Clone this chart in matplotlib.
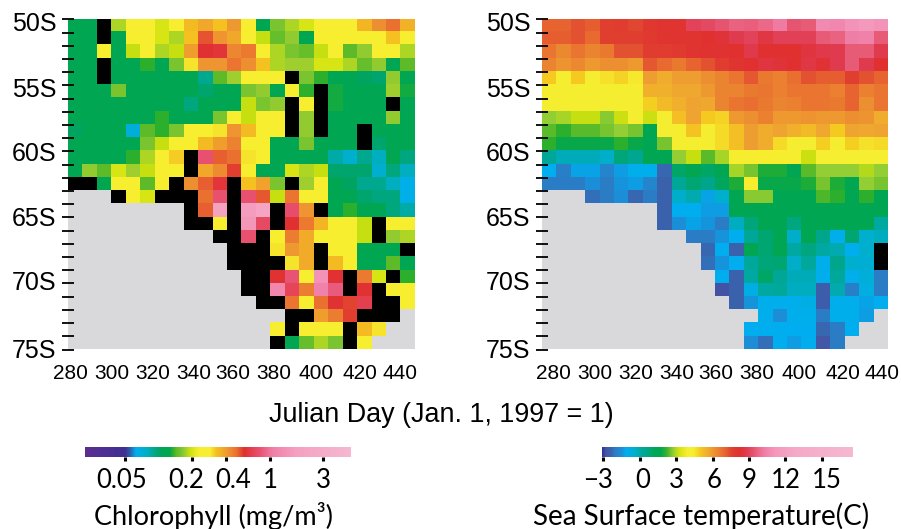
import matplotlib
matplotlib.use("Agg")
import matplotlib.pyplot as plt
import numpy as np
from matplotlib.cm import ScalarMappable
from matplotlib.colors import LinearSegmentedColormap, LogNorm, Normalize
from matplotlib.transforms import Affine2D

W, H = 901, 529
L = np.nan    # land
K = 0.001     # no chlorophyll data (black)
T = -99.0     # no sst data (black)
g = 0.115
Y = 0.26

chl = [
    [g, g, K, .18, Y, Y, .2, .24, .34, .38, .33, .41, .26, .12, .16, .18, .2, .25, .27, .28, .35, .43, .5, .36],
    [g, g, K, g, Y, Y, .2, .18, .33, .54, .42, .38, .28, .19, .15, .17, .12, Y, Y, Y, Y, Y, .33, Y],
    [g, g, .27, g, .19, .25, .18, .19, .4, .59, .62, .45, .48, Y, .18, .16, .15, .19, .25, .145, .17, Y, Y, .18],
    [g, g, K, g, g, .135, g, .16, .3, .42, .42, .49, .43, .33, .18, .175, .175, .2, .2, .18, .15, .17, g, .145],
    [g, g, K, g, g, g, g, g, g, .09, .145, .175, Y, Y, Y, K, .16, .135, g, g, .105, .1, .17, g],
    [g, g, g, .16, g, g, g, .11, .115, .1, g, g, .16, .17, g, Y, .135, K, .13, g, g, g, .175, .13],
    [g, g, g, g, g, g, g, .11, .095, g, g, g, .19, .16, .17, K, Y, K, .13, g, g, g, K, g],
    [.11, g, g, g, g, g, .135, g, g, g, .16, Y, .19, Y, Y, K, .17, K, g, g, g, g, .17, g],
    [.105, g, g, g, .07, .145, .135, .16, Y, Y, .3, .42, .34, Y, Y, K, .17, K, g, g, K, g, g, g],
    [.11, g, g, g, g, .16, .19, Y, Y, .34, .4, .46, Y, Y, g, g, .16, g, g, g, K, .1, g, g],
    [.11, g, g, g, .135, .18, Y, .32, K, .8, .52, .5, .3, Y, g, g, g, g, .085, .075, .09, .08, .11, .095],
    [g, .17, .145, .2, .175, .19, Y, Y, K, .38, .44, .57, Y, g, g, .2, .18, .19, .1, .1, .1, .075, .095, .08],
    [K, K, g, Y, Y, .145, Y, K, .43, .52, .62, K, .33, .39, .16, K, .175, Y, g, .105, .09, .09, .08, .065],
    [L, L, L, K, Y, .2, K, K, K, .5, .8, K, .8, .53, .19, .49, Y, Y, g, g, .1, .095, .095, .065],
    [L] * 8 + [K, .52, 1.8, K, 1.6, 2.2, K, .78, .42, K, g, .135, g, g, .095, .085],
    [L] * 8 + [K, K, .27, K, 1.5, .75, K, .59, .48, .35, Y, Y, .19, K, Y, Y],
    [L] * 10 + [K, K, .8, K, Y, .47, .37, Y, Y, Y, .19, K, .17, .18],
    [L] * 11 + [K, K, K, .3, .41, .37, K, .29, Y, g, g, g, K],
    [L] * 11 + [K, K, K, K, .3, .37, K, .34, Y, g, g, .145, g],
    [L] * 12 + [K, K, .6, .82, .29, 1.4, .6, K, .48, .2, K, .135],
    [L] * 12 + [K, K, 1.2, .72, .47, 1.1, .85, K, .6, K, Y, Y],
    [L] * 13 + [K, K, .49, Y, .5, .6, .56, .68, K, K, .29],
    [L] * 15 + [K, K, .4, .47, .57, K, K, K, L],
    [L] * 14 + [.27, K, Y, Y, Y, K, .34, .3, L, L],
    [L] * 14 + [K, .12, .15, .18, .16, K, Y, L, L, L],
]

sst = [
    [7.0, 7.0, 7.3, 7.1, 7.6, 7.7, 7.5, 7.9, 8.0, 8.0, 9.0, 9.1, 9.4, 9.7, 9.6, 9.8, 10.2, 9.4, 9.5, 10.7, 10.6, 11.0, 11.2, 11.0],
    [7.1, 7.1, 7.3, 6.9, 7.6, 7.6, 7.6, 7.8, 8.0, 8.0, 8.0, 8.2, 8.4, 8.8, 9.0, 8.6, 8.9, 8.9, 8.9, 9.5, 9.7, 10.3, 10.4, 9.5],
    [6.7, 6.3, 6.7, 6.4, 6.6, 7.3, 7.3, 7.7, 7.7, 7.8, 8.0, 8.1, 8.1, 8.2, 8.7, 8.2, 8.2, 8.2, 8.5, 8.7, 8.8, 9.5, 9.5, 8.8],
    [6.4, 6.1, 6.3, 6.0, 6.2, 6.2, 6.0, 7.2, 6.9, 6.6, 7.0, 7.3, 7.7, 8.0, 8.2, 8.5, 8.4, 8.2, 8.6, 8.3, 8.8, 9.5, 8.8, 8.2],
    [5.0, 4.3, 5.0, 4.2, 4.6, 4.8, 4.5, 5.9, 5.6, 5.9, 5.9, 6.2, 6.4, 6.7, 7.2, 6.6, 6.5, 6.8, 7.3, 7.1, 7.1, 7.6, 7.3, 7.0],
    [4.4, 4.3, 4.3, 4.3, 4.3, 4.3, 4.3, 5.5, 5.5, 5.7, 5.7, 6.0, 6.4, 6.4, 6.6, 6.7, 6.5, 6.7, 6.7, 6.7, 6.5, 7.0, 6.5, 6.7],
    [4.4, 4.4, 4.4, 4.4, 4.4, 4.4, 4.4, 4.9, 5.3, 5.5, 5.8, 5.7, 6.4, 6.7, 6.8, 6.6, 6.4, 6.5, 6.7, 6.7, 6.6, 7.0, 6.2, 6.7],
    [2.8, 2.9, 3.1, 3.1, 2.7, 3.2, 4.3, 3.2, 4.2, 5.2, 5.8, 5.0, 4.8, 6.0, 6.2, 6.5, 6.0, 6.0, 6.1, 6.0, 6.0, 6.2, 6.1, 5.6],
    [2.4, 2.1, 2.4, 2.4, 2.6, 2.8, 2.6, 1.7, 4.4, 4.4, 5.1, 4.3, 4.7, 5.2, 5.9, 5.6, 5.8, 5.5, 5.3, 5.7, 5.0, 5.8, 5.7, 5.8],
    [2.1, 1.8, 1.8, 1.8, 1.8, 2.1, 1.8, 1.7, 2.6, 4.4, 4.4, 4.4, 4.7, 5.2, 5.9, 5.6, 4.7, 4.4, 4.4, 4.9, 4.3, 4.9, 4.6, 4.7],
    [0.3, -0.2, -0.2, -0.2, -0.4, 0.8, 0.4, 1.5, 1.5, 2.8, 3.1, 2.4, 2.9, 3.9, 3.9, 3.9, 3.9, 3.9, 3.2, 4.0, 4.0, 4.0, 4.0, 4.0],
    [-1.1, -1.9, -1.2, -1.2, -1.8, -1.3, -1.0, -1.0, -2.3, 1.0, 1.4, 1.0, 1.6, 2.9, 2.6, 2.0, 2.0, 1.6, 2.4, 2.8, 2.8, 2.8, 3.0, 2.8],
    [-2.0, -2.0, -2.0, -1.5, -2.0, -1.4, -1.3, -1.8, -2.4, 0.3, 0.9, 0.5, 1.1, 2.0, 3.9, 1.8, 1.8, 1.8, 2.0, 2.6, 2.0, 1.7, 2.8, 2.6],
    [L, L, L, -2.2, -2.0, -1.5, -2.3, -2.0, -2.4, -0.4, -0.1, -1.2, -0.5, 1.7, 2.7, 2.7, 1.7, 1.2, 1.6, 2.3, 2.1, 1.6, 2.1, 1.6],
    [L] * 8 + [-2.4, -1.1, -1.1, -1.3, -1.3, 1.6, 1.7, 1.7, 1.7, 1.7, 1.7, 1.7, 1.7, 1.7, 1.7, 1.3],
    [L] * 8 + [-2.4, -1.5, -1.2, -1.4, -2.0, -0.3, 0.8, 1.2, 1.4, 0.7, 1.4, 1.5, 1.7, 1.4, 1.2, 0.1],
    [L] * 10 + [-2.0, -2.0, -1.4, -1.1, 0.3, 0.9, 1.4, -0.4, 1.2, 0.5, -1.0, 0.9, -0.5, -0.3],
    [L] * 11 + [-2.3, -1.1, -2.4, 1.6, 0.9, 1.3, 0.1, 0.7, 0.1, -0.1, -1.1, -0.5, T],
    [L] * 11 + [-2.2, -1.4, -1.1, 0.2, 0.8, 0.9, -0.4, 0.2, -1.0, 0.5, -0.5, -0.6, T],
    [L] * 12 + [-1.1, -2.4, 0.1, 1.0, 0.3, -0.2, -0.2, -1.0, 0.2, -1.0, -0.7, -2.0],
    [L] * 12 + [-2.8, -2.4, -0.9, 0.1, 0.2, -0.3, -0.3, -2.5, -0.1, -1.9, -0.8, -2.0],
    [L] * 13 + [-2.4, -1.4, -1.0, -1.0, -1.0, -0.9, -2.5, -1.0, -1.0, -1.2, -1.1],
    [L] * 15 + [-1.0, -1.5, -1.0, -1.0, -2.0, -1.0, -1.0, -1.3, L],
    [L] * 14 + [-1.1, -1.1, -1.1, -1.1, -1.1, -2.3, -2.0, -1.1, L, L],
    [L] * 14 + [-1.5, -2.2, -1.1, -1.3, -1.1, -2.7, -2.0, L, L, L],
]

day_ticks = [280, 300, 320, 340, 360, 380, 400, 420, 440]
lat_ticks = [50, 55, 60, 65, 70, 75]
lat_labels = ["50S", "55S", "60S", "65S", "70S", "75S"]
chl_ticks = [0.05, 0.2, 0.4, 1, 3]
chl_labels = ["0.05", "0.2", "0.4", "1", "3"]
sst_ticks = [-3, 0, 3, 6, 9, 12, 15]
sst_labels = ["\u22123", "0", "3", "6", "9", "12", "15"]

chl_stops = [
    (.022, "#5c2d91"), (.05, "#3f3091"), (.055, "#2e5aa8"), (.063, "#00aeef"), (.08, "#00aec0"),
    (.09, "#00a88f"), (.105, "#00a45e"), (.11, "#00a651"), (.125, "#00a651"), (.135, "#2db02d"),
    (.145, "#5dbb2a"), (.16, "#7ac52f"), (.175, "#a0d030"), (.19, "#c5df10"), (.2, "#d8e515"),
    (.23, "#f7ee30"), (.29, "#f7ee30"), (.33, "#f5c020"), (.41, "#ef9a30"), (.5, "#ea7030"),
    (.59, "#e03030"), (.8, "#e8506f"), (1.06, "#f07fa8"), (1.7, "#f5a0c0"), (5.3, "#f5b8d0"),
]
sst_stops = [
    (-3.14, "#2e3192"), (-2.8, "#4455a5"), (-2.4, "#3a62ad"), (-2, "#2a7ec5"), (-1.5, "#1b8fd8"),
    (-1.1, "#00aeef"), (-0.4, "#00aec8"), (0.1, "#00a8a0"), (0.8, "#00a67a"), (1.2, "#00a651"),
    (1.7, "#00a651"), (2.1, "#2db02d"), (2.4, "#5dbb2a"), (2.8, "#96cf35"), (3.1, "#c5df10"),
    (3.4, "#dce515"), (3.9, "#f7ee30"), (4.4, "#f5ee30"), (5.0, "#f5c820"), (5.7, "#f0a830"),
    (6.3, "#ec8a30"), (6.9, "#e96a30"), (7.6, "#e04030"), (8.2, "#e03030"), (8.8, "#e03b50"),
    (9.5, "#e85a75"), (10.3, "#f07fa8"), (11.2, "#f498bc"), (13, "#f5aac8"), (17.6, "#f5b8d0"),
]


def make_cmap(stops, norm):
    pos = [float(norm(v)) for v, c in stops]
    pos[0], pos[-1] = 0.0, 1.0
    cmap = LinearSegmentedColormap.from_list("m", list(zip(pos, [c for v, c in stops])), N=512)
    cmap.set_bad("#d9d9db")
    cmap.set_under("black")
    return cmap


def px_axes(fig, x0, y0, x1, y1):
    return fig.add_axes([x0 / W, 1 - y1 / H, (x1 - x0) / W, (y1 - y0) / H])


# the labels in the picture were placed by hand, so nudge them in pixels
def nudge(labels, dx=None, dy=None):
    for i, t in enumerate(labels):
        ox = dx[i] if dx else 0
        oy = dy[i] if dy else 0
        t.set_transform(t.get_transform() + Affine2D().translate(ox, oy))


def draw_map(fig, box, grid, cmap, norm, xlim, x_nudge):
    ax = px_axes(fig, *box)
    ax.imshow(np.array(grid, dtype=float), cmap=cmap, norm=norm, aspect="auto",
              interpolation="nearest", extent=(xlim[0], xlim[1], 75, 50))
    ax.set_xlim(xlim)
    ax.set_ylim(75, 50)
    for s in ax.spines.values():
        s.set_visible(False)
    ax.set_xticks(day_ticks)
    ax.tick_params(axis="x", length=0, pad=10.5, labelsize=15)
    ax.set_yticks(lat_ticks)
    ax.set_yticklabels(lat_labels)
    ax.set_yticks(np.arange(50, 76), minor=True)
    ax.tick_params(axis="y", which="both", direction="inout", length=8, width=1.3, pad=4.5,
                   labelsize=18)
    nudge(ax.get_xticklabels(), dx=x_nudge)
    nudge(ax.get_yticklabels(), dy=[-2.4, -2.5, 0, 1.3, 2.8, 1])
    return ax


def draw_bar(fig, box, cmap, norm, ticks, labels, title, title_x, title_size, x_nudge):
    cax = px_axes(fig, *box)
    cb = fig.colorbar(ScalarMappable(norm=norm, cmap=cmap), cax=cax, orientation="horizontal")
    cb.outline.set_visible(False)
    cax.minorticks_off()
    cb.set_ticks(ticks)
    cb.set_ticklabels(labels)
    cax.tick_params(axis="x", length=3, width=2.2, pad=4.5)
    for t in cax.get_xticklabels():
        t.set_fontfamily("Lato")
        t.set_fontsize(18.5)
    nudge(cax.get_xticklabels(), dx=x_nudge)
    fig.text(title_x / W, 1 - 516 / H, title, family="Lato", fontsize=title_size,
             ha="center", va="center")


plt.rcParams["font.family"] = ["Liberation Sans", "DejaVu Sans"]
fig = plt.figure(figsize=(W / 100, H / 100), dpi=100)

chl_norm = LogNorm(0.022, 5.3)
sst_norm = Normalize(-3.14, 17.6)
chl_cmap = make_cmap(chl_stops, chl_norm)
sst_cmap = make_cmap(sst_stops, sst_norm)

draw_map(fig, (68, 19.3, 415, 349.5), chl, chl_cmap, chl_norm, (279, 447),
         [0.5, 0, 0, 0, -2.5, -2.5, -2, 1, -1])
draw_map(fig, (542.3, 19.3, 888, 349.5), sst, sst_cmap, sst_norm, (274.5, 442.5),
         [0, 0, 0, 0, -2.3, -2.5, -1.6, 1.3, -1.2])

fig.text(441.5 / W, 1 - 415.5 / H, "Julian Day (Jan. 1, 1997 = 1)", fontsize=19.4, ha="center", va="center")

draw_bar(fig, (85, 446.7, 351, 457.3), chl_cmap, chl_norm, chl_ticks, chl_labels,
         "Chlorophyll (mg/m\u00b3)", 213, 19.5, [-3, -6, 7, 0, 0])
draw_bar(fig, (601.7, 446.7, 853.3, 457.3), sst_cmap, sst_norm, sst_ticks, sst_labels,
         "Sea Surface temperature(C)", 701, 20, [-5, 3, 0, 1.5, 0, 0, 5])

fig.savefig("out.png", dpi=100)
